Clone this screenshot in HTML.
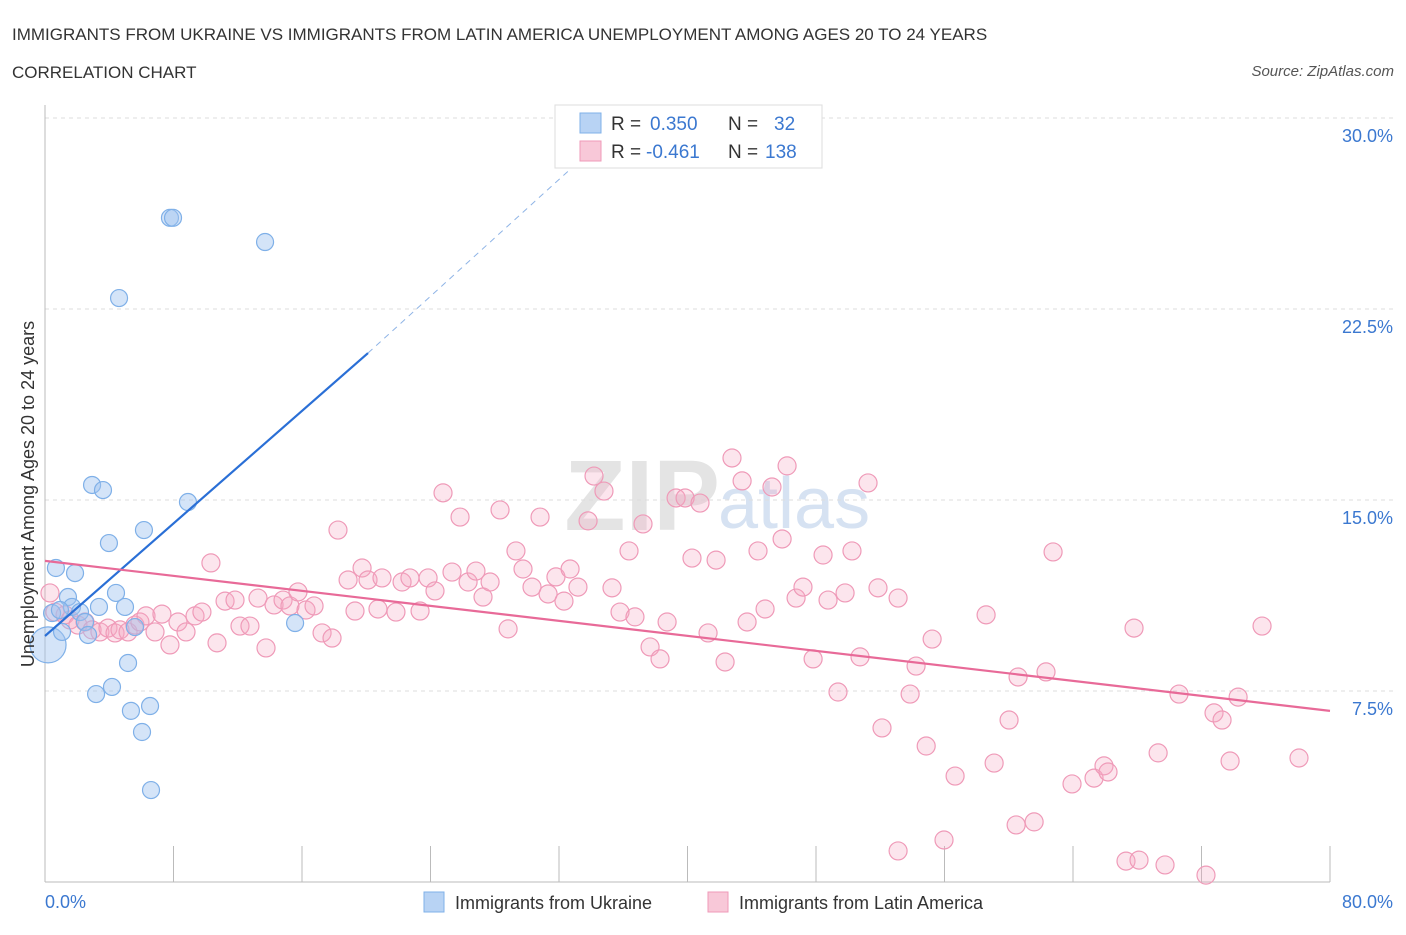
<!DOCTYPE html>
<html><head><meta charset="utf-8"><style>
body{margin:0;background:#fff;font-family:"Liberation Sans",sans-serif;}
svg text{font-family:"Liberation Sans",sans-serif;}
</style></head><body>
<svg id="c" width="1406" height="930" xmlns="http://www.w3.org/2000/svg">
<text x="12" y="40" font-size="17" fill="#333">IMMIGRANTS FROM UKRAINE VS IMMIGRANTS FROM LATIN AMERICA UNEMPLOYMENT AMONG AGES 20 TO 24 YEARS</text>
<text x="12" y="78" font-size="17" fill="#333">CORRELATION CHART</text>
<text x="1394" y="76" font-size="15" font-style="italic" fill="#555" text-anchor="end">Source: ZipAtlas.com</text>
<text x="720" y="530" font-size="100" font-family="Liberation Serif" font-weight="bold" fill="#e4e4e4" text-anchor="end">ZIP</text>
<text x="718" y="528" font-size="72" fill="#d6e2f2">atlas</text>
<g id="grid"></g><g id="pts"></g><g id="lines"></g>
<text transform="translate(34,494) rotate(-90)" font-size="18" fill="#333" text-anchor="middle">Unemployment Among Ages 20 to 24 years</text>
<text x="45" y="908" font-size="18" fill="#3b78d0">0.0%</text>
<text x="1393" y="908" font-size="18" fill="#3b78d0" text-anchor="end">80.0%</text>
<g>
<rect x="555" y="105" width="267" height="63" fill="#fff" stroke="#ddd"/>
<rect x="580" y="113" width="21" height="20" fill="#b8d3f4" stroke="#7fb0e8"/>
<rect x="580" y="141" width="21" height="20" fill="#f8c8d8" stroke="#ef9ab8"/>
<text x="611" y="130" font-size="19" fill="#333">R = </text><text x="650" y="130" font-size="19" fill="#3b78d0">0.350</text>
<text x="728" y="130" font-size="19" fill="#333">N = </text><text x="774" y="130" font-size="19" fill="#3b78d0">32</text>
<text x="611" y="158" font-size="19" fill="#333">R = </text><text x="646" y="158" font-size="19" fill="#3b78d0">-0.461</text>
<text x="728" y="158" font-size="19" fill="#333">N = </text><text x="765" y="158" font-size="19" fill="#3b78d0">138</text>
</g>
<g>
<rect x="424" y="892" width="20" height="20" fill="#b8d3f4" stroke="#7fb0e8"/>
<text x="455" y="909" font-size="18" fill="#333">Immigrants from Ukraine</text>
<rect x="708" y="892" width="20" height="20" fill="#f8c8d8" stroke="#ef9ab8"/>
<text x="739" y="909" font-size="18" fill="#333">Immigrants from Latin America</text>
</g>
</svg>
<script>
const yTicks=[7.5,15,22.5,30];
const yTickLabels=["7.5%","15.0%","22.5%","30.0%"];
const xTicks=[0,8,16,24,32,40,48,56,64,72,80];
const blueX=[0.19,0.68,0.44,1.06,1.43,1.87,1.68,2.18,2.49,2.68,2.93,3.61,3.98,3.36,4.42,4.98,6.16,8.90,4.61,7.78,7.97,13.70,5.17,3.18,4.17,5.35,6.54,6.04,6.60,15.57,5.60,0.93];
const blueY=[9.31,12.33,10.56,9.82,11.19,12.13,10.80,10.60,10.21,9.70,15.59,15.39,13.31,10.80,11.35,10.80,13.82,14.92,22.93,26.08,26.08,25.13,8.60,7.38,7.66,6.72,6.91,5.89,3.61,10.17,10.01,10.68];
const pinkX=[0.31,0.62,1.25,1.56,2.05,2.49,2.93,3.42,3.92,4.36,4.67,5.17,5.60,5.91,6.29,6.85,7.28,7.78,8.28,8.78,9.34,9.77,10.33,10.71,11.21,11.83,12.14,12.76,13.26,13.76,14.26,14.82,15.25,15.75,16.25,16.75,17.25,17.87,18.24,18.87,19.30,19.74,20.11,20.73,20.98,21.85,22.23,22.72,23.35,23.85,24.28,24.78,25.34,25.84,26.34,26.83,27.27,27.71,28.33,28.83,29.32,29.76,30.32,30.82,31.32,31.81,32.31,32.69,33.18,33.81,34.18,34.80,35.30,35.80,36.36,36.73,37.23,37.67,38.29,38.73,39.29,39.85,40.28,40.78,41.28,41.78,42.34,42.77,43.40,43.71,44.39,44.83,45.26,45.89,46.20,46.76,47.19,47.82,48.44,48.75,49.37,49.81,50.24,50.74,51.24,51.86,52.11,53.11,53.11,53.86,54.23,54.86,55.23,55.97,56.66,58.59,59.09,60.02,60.46,60.58,61.58,62.32,62.76,63.94,65.31,65.93,66.18,67.30,67.80,68.11,69.30,69.73,70.60,72.28,72.78,73.28,73.78,74.28,75.77,78.07];
const pinkY=[11.35,10.60,10.49,10.29,10.09,10.21,9.90,9.82,9.97,9.78,9.90,9.82,10.09,10.21,10.45,9.82,10.52,9.31,10.21,9.82,10.45,10.60,12.53,9.39,11.03,11.07,10.05,10.05,11.15,9.19,10.88,11.07,10.84,11.39,10.68,10.84,9.78,9.58,13.82,11.86,10.64,12.33,11.86,10.72,11.94,10.60,11.78,11.94,10.64,11.94,11.43,15.28,12.17,14.33,11.78,12.21,11.19,11.78,14.61,9.94,13.00,12.29,11.58,14.33,11.31,11.98,11.03,12.29,11.58,14.18,15.94,15.35,11.55,10.60,13.00,10.41,14.06,9.23,8.76,10.21,15.08,15.08,12.72,14.88,9.78,12.64,8.64,16.65,15.75,10.21,13.00,10.72,15.51,13.47,16.34,11.15,11.58,8.76,12.84,11.07,7.46,11.35,13.00,8.84,15.67,11.55,6.05,1.22,11.15,7.38,8.48,5.34,9.54,1.65,4.16,10.49,4.67,6.36,2.24,8.05,2.36,8.25,12.96,3.85,4.08,4.56,4.32,0.82,9.97,0.86,5.07,0.67,7.38,0.27,6.64,6.36,4.75,7.26,10.05,4.87];
const blueLine=[0,9.66,20.11,20.77];
const blueDash=[20.11,20.77,33.0,28.16];
const pinkLine=[0,12.61,80,6.72];
const NS="http://www.w3.org/2000/svg";
const X=v=>45+v/80*1285, Y=v=>882-v/30*764;
function mk(t,a,p){const e=document.createElementNS(NS,t);for(const k in a)e.setAttribute(k,a[k]);p.appendChild(e);return e;}
const g=document.getElementById('grid');
yTicks.forEach((t,i)=>{
 const l=mk('line',{x1:45,x2:1395,y1:Y(t),y2:Y(t),stroke:'#ddd','stroke-dasharray':'4,4'},g);
 
 
 const tx=mk('text',{x:1393,y:Y(t)+24,'font-size':18,fill:'#3b78d0','text-anchor':'end'},g);
 tx.textContent=yTickLabels[i];
 
 
});
const ax=mk('line',{x1:45,x2:45,y1:105,y2:882,stroke:'#bbb'},g);


const bx=mk('line',{x1:45,x2:1330,y1:882,y2:882,stroke:'#bbb'},g);


xTicks.forEach(t=>{
 const l=mk('line',{x1:X(t),x2:X(t),y1:846,y2:882,stroke:'#bbb'},g);
 
 
});
const p=document.getElementById('pts');
pinkX.forEach((x,i)=>{
 const c=mk('circle',{cx:X(x),cy:Y(pinkY[i]),r:9,fill:'rgba(244,170,196,0.3)',stroke:'#ef9ab8','stroke-width':1.2},p);
 
 
});
blueX.forEach((x,i)=>{
 const c=mk('circle',{cx:X(x),cy:Y(blueY[i]),r:i===0?18:8.5,fill:'rgba(160,196,240,0.45)',stroke:'#7fb0e8','stroke-width':1.2},p);
 
 
});
const L=document.getElementById('lines');
const b1=mk('line',{x1:X(blueLine[0]),y1:Y(blueLine[1]),x2:X(blueLine[2]),y2:Y(blueLine[3]),stroke:'#2a6fd6','stroke-width':2.2},L);


const b2=mk('line',{x1:X(blueDash[0]),y1:Y(blueDash[1]),x2:X(blueDash[2]),y2:Y(blueDash[3]),stroke:'#8fb4e6','stroke-width':1,'stroke-dasharray':'6,5'},L);


const p1=mk('line',{x1:X(pinkLine[0]),y1:Y(pinkLine[1]),x2:X(pinkLine[2]),y2:Y(pinkLine[3]),stroke:'#e86a98','stroke-width':2.2},L);


</script>
</body></html>
